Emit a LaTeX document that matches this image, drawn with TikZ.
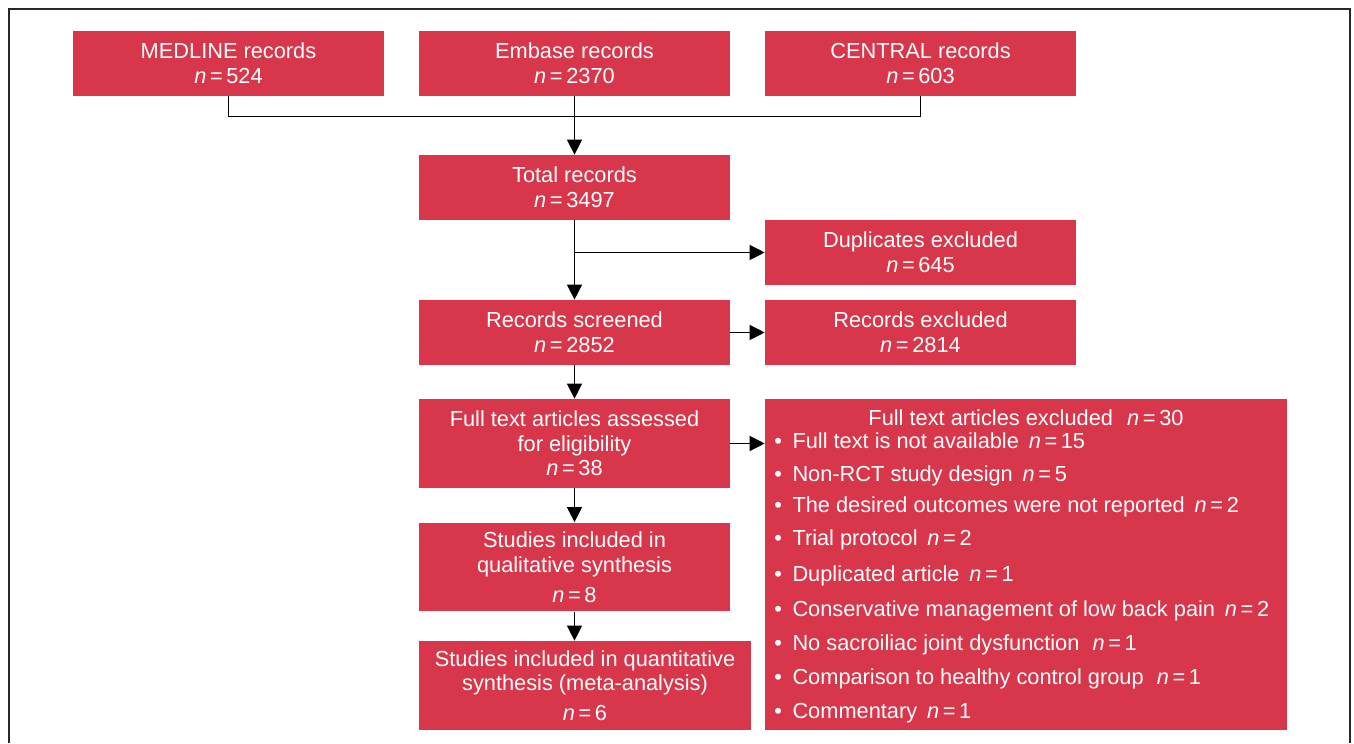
\documentclass[tikz,border=0pt]{standalone}
\usepackage{fontspec}
\setmainfont{Liberation Sans}
\usepackage{xcolor}
\usepackage{tikz}
\usetikzlibrary{arrows.meta,positioning}
\definecolor{PrismaRed}{RGB}{216,54,74}
\definecolor{FrameGray}{RGB}{40,40,40}
\newcommand{\nval}[1]{{\itshape n}\,=\,#1}
\newcommand{\ngap}{\hspace{0.45em}}

\begin{document}
\begin{tikzpicture}[x=0.02cm,y=-0.02cm,
    box/.style={fill=PrismaRed, text=white, inner sep=0pt, minimum width=6.22cm,
      minimum height=1.3cm, align=center, font=\fontsize{12.4}{14}\selectfont},
    tall/.style={minimum height=1.78cm},
    link/.style={-{Triangle[length=3mm,width=3mm]}, line width=0.7pt},
    plain/.style={line width=0.7pt},
    listtext/.style={anchor=base west, inner sep=0pt, text=white, font=\fontsize{12.4}{14}\selectfont}]
  \useasboundingbox (0,0) rectangle (1354,743);
  \draw[FrameGray, line width=1pt] (9,743) -- (9,9) -- (1350,9) -- (1350,743);

  % sources
  \node[box] (medline) at (228.5,63.5) {MEDLINE records\\ \nval{524}};
  \node[box] (embase) at (574.5,63.5) {Embase records\\ \nval{2370}};
  \node[box] (central) at (920.5,63.5) {CENTRAL records\\ \nval{603}};

  % main column
  \node[box] (total) at (574.5,187.5) {Total records\\ \nval{3497}};
  \node[box] (dup) at (920.5,252.5) {Duplicates excluded\\ \nval{645}};
  \node[box] (screened) at (574.5,332.5) {Records screened\\ \nval{2852}};
  \node[box] (rexcl) at (920.5,332.5) {Records excluded\\ \nval{2814}};
  \node[box, tall] (assessed) at (574.5,443.5) {Full text articles assessed\\ for eligibility\\ \nval{38}};
  \node[box, tall] (qual) at (574.5,567) {Studies included in\\ qualitative synthesis\\[3pt] \nval{8}};
  \node[box, tall, minimum width=6.64cm] (quant) at (585,685.5) {Studies included in quantitative\\ synthesis (meta-analysis)\\[3pt] \nval{6}};

  % excluded full texts
  \node[box, minimum width=10.44cm, minimum height=6.62cm] (excl) at (1026,564.5) {};
  \node[listtext, anchor=base] (exhead) at (1026,425.7) {Full text articles excluded\hspace{0.65em}\nval{30}};
  \foreach \y/\entry [count=\i] in {
      448.3/{Full text is not available\ngap\nval{15}},
      481/{Non-RCT study design\ngap\nval{5}},
      512.3/{The desired outcomes were not reported\ngap\nval{2}},
      545/{Trial protocol\ngap\nval{2}},
      581.7/{Duplicated article\ngap\nval{1}},
      616.7/{Conservative management of low back pain\ngap\nval{2}},
      650.7/{No sacroiliac joint dysfunction\hspace{0.6em}\nval{1}},
      684/{Comparison to healthy control group\hspace{0.6em}\nval{1}},
      718.3/{Commentary\ngap\nval{1}}} {
    \node[listtext] (ex\i) at (774,\y) {\textbullet\hspace{6pt}\entry};
  }

  % connectors
  \coordinate (merge) at (574.5,116.5);
  \draw[plain] (medline.south) |- (merge) -| (central.south);
  \draw[link] (embase.south) -- (total.north);
  \coordinate (split) at (total.south |- dup.west);
  \draw[link] (total.south) -- (screened.north);
  \draw[link] (split) -- (dup.west);
  \draw[link] (screened.east) -- (rexcl.west);
  \draw[link] (screened.south) -- (assessed.north);
  \draw[link] (assessed.east) -- (assessed.east -| excl.west);
  \draw[link] (assessed.south) -- (qual.north);
  \draw[link] (qual.south) -- (qual.south |- quant.north);
\end{tikzpicture}
\end{document}
